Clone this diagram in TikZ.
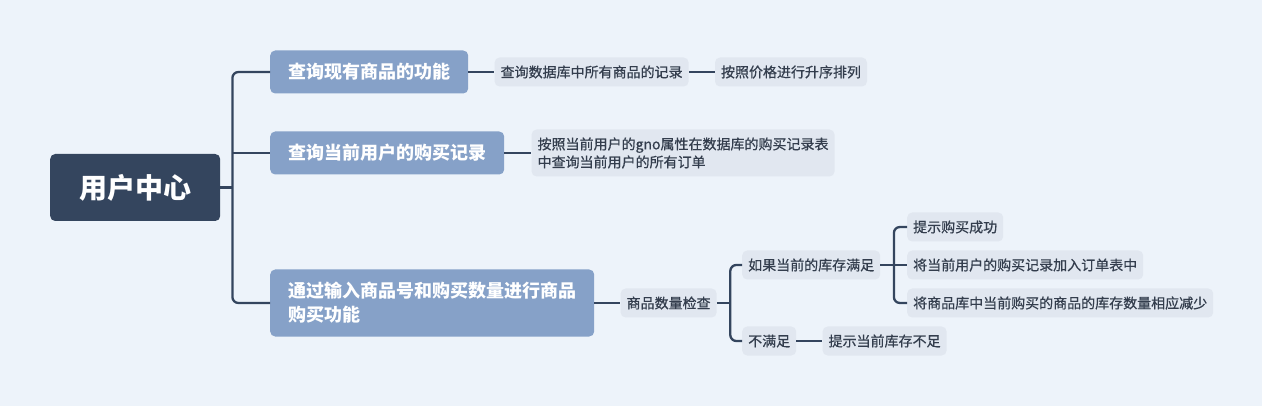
\documentclass[tikz,border=0pt]{standalone}
\usepackage{fontspec}
\setmainfont{Noto Sans CJK SC}
\newfontfamily\leaffont[FakeBold=0.6]{Noto Sans CJK SC}
\usetikzlibrary{positioning}
\definecolor{bgc}{RGB}{237,243,250}
\definecolor{rootc}{RGB}{52,69,94}
\definecolor{mainc}{RGB}{134,161,200}
\definecolor{subc}{RGB}{225,231,240}
\definecolor{txtc}{RGB}{51,61,77}

\begin{document}
\begin{tikzpicture}[x=1pt,y=-1pt,root/.style={fill=rootc, text=white, rounded corners=5pt, inner xsep=29pt, minimum height=67pt, font=\fontsize{28}{34}\selectfont\bfseries, anchor=west}]
    \tikzset{topic/.style={fill=mainc, text=white, rounded corners=5pt, inner xsep=18pt, minimum height=43pt, align=left, font=\fontsize{18}{24}\selectfont\bfseries, anchor=west}}
    \tikzset{leaf/.style={fill=subc, text=txtc, rounded corners=5pt, inner xsep=6pt, minimum height=29pt, align=left, font=\leaffont\fontsize{14}{18}\selectfont, anchor=west}}
    \tikzset{link/.style={draw=rootc, line width=2.3pt, rounded corners=6pt}}
    \useasboundingbox (0,0) rectangle (1262,406);
    \fill[bgc] (0,0) rectangle (1262,406);

    \node[root] (center) at (50,187.5) {用户中心};

    \node[topic] (q1) at (270,72) {查询现有商品的功能};
    \node[topic] (q2) at (270,153) {查询当前用户的购买记录};
    \node[topic, minimum height=67pt] (q3) at (270,303) {通过输入商品号和购买数量进行商品\\购买功能};

    \node[leaf, right=26pt of q1] (q1a) {查询数据库中所有商品的记录};
    \node[leaf, right=26pt of q1a] (q1b) {按照价格进行升序排列};
    \node[leaf, right=27pt of q2, minimum height=47pt] (q2a) {按照当前用户的gno属性在数据库的购买记录表\\中查询当前用户的所有订单};
    \node[leaf, right=26pt of q3] (check) {商品数量检查};

    \node[leaf] (ok) at (742,265) {如果当前的库存满足};
    \node[leaf] (nok) at (742,341) {不满足};
    \node[leaf, right=26pt of nok] (nok1) {提示当前库存不足};

    \node[leaf] (ok1) at (907,227) {提示购买成功};
    \node[leaf] (ok2) at (907,265) {将当前用户的购买记录加入订单表中};
    \node[leaf] (ok3) at (907,303) {将商品库中当前购买的商品的库存数量相应减少};

    \path (center.east) -- ++(12pt,0) coordinate (hubA);
    \path (check.east) -- ++(13.5pt,0) coordinate (hubB);
    \path (ok.east) -- ++(13.5pt,0) coordinate (hubC);

    \draw[link] (q1.west) -| (hubA) |- (q3.west);
    \draw[link] (center.east) -- (hubA);
    \draw[link] (hubA |- q2.west) -- (q2.west);

    \draw[link] (q1) -- (q1a);
    \draw[link] (q1a) -- (q1b);
    \draw[link] (q2) -- (q2a);
    \draw[link] (q3) -- (check);

    \draw[link] (ok.west) -| (hubB) |- (nok.west);
    \draw[link] (check.east) -- (hubB);
    \draw[link] (nok) -- (nok1);

    \draw[link] (ok1.west) -| (hubC) |- (ok3.west);
    \draw[link] (ok.east) -- (ok2.west);
\end{tikzpicture}
\end{document}
